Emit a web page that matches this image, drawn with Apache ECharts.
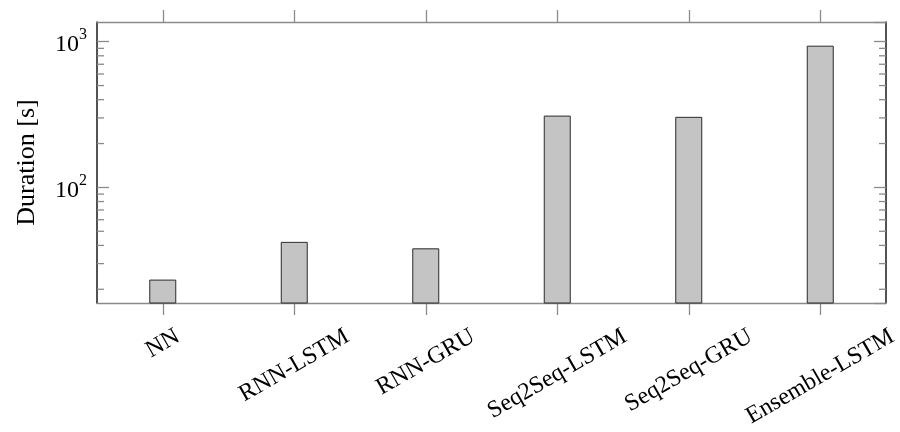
<!DOCTYPE html>
<html>
<head>
<meta charset="utf-8">
<script src="https://cdn.jsdelivr.net/npm/echarts@6/dist/echarts.min.js"></script>
<style>html,body{margin:0;padding:0;background:#fff;}#c{width:900px;height:432px;}</style>
</head>
<body>
<div id="c"></div>
<script>
const categories = ['NN', 'RNN-LSTM', 'RNN-GRU', 'Seq2Seq-LSTM', 'Seq2Seq-GRU', 'Ensemble-LSTM'];
const durations = [23.3, 42.3, 38.2, 311, 305, 939];
const yMin = 16.1;
const yMax = 1365;
const minorTicks = [20, 30, 40, 50, 60, 70, 80, 90, 200, 300, 400, 500, 600, 700, 800, 900];
const yTitle = 'Duration [s]';

const FONT = '"Liberation Serif", "Times New Roman", serif';
const labelSize = 24;
const tickColor = '#8a8a8a';
const frameGray = '#8a8a8a';
const frameDark = '#1a1a1a';

const mctx = document.createElement('canvas').getContext('2d');
mctx.font = labelSize + 'px ' + FONT;
function textW(t) { return mctx.measureText(t).width; }

function powLabel(v) {
  const e = Math.log10(v);
  const r = Math.round(e);
  if (Math.abs(e - r) > 1e-6) return '';
  return '{b|10}{s|' + r + '}';
}

const chart = echarts.init(document.getElementById('c'), null, {renderer: 'canvas'});
const ang = Math.PI / 6;

chart.setOption({
  animation: false,
  backgroundColor: '#fff',
  grid: {left: 97, right: 14, top: 22, bottom: 129, containLabel: false},
  xAxis: [
    {
      type: 'category', data: categories, position: 'bottom',
      axisLine: {show: true, lineStyle: {color: frameGray, width: 1.3}},
      axisTick: {show: true, alignWithLabel: true, inside: false, length: 12, lineStyle: {color: tickColor, width: 1.3}},
      axisLabel: {show: false},
      splitLine: {show: false}
    },
    {
      type: 'category', data: categories, position: 'top',
      axisLine: {show: true, lineStyle: {color: frameGray, width: 1.3}},
      axisTick: {show: true, alignWithLabel: true, inside: false, length: 12, lineStyle: {color: tickColor, width: 1.3}},
      axisLabel: {show: false},
      splitLine: {show: false}
    }
  ],
  yAxis: [
    {
      type: 'log', logBase: 10, min: yMin, max: yMax, position: 'left',
      name: yTitle, nameLocation: 'middle', nameRotate: 90, nameGap: 57,
      nameTextStyle: {fontFamily: FONT, fontSize: 26, color: '#000'},
      axisLine: {show: true, lineStyle: {color: frameDark, width: 1.5}},
      axisTick: {show: true, inside: true, length: 12, lineStyle: {color: tickColor, width: 1.3}},
      axisLabel: {
        show: true, margin: 10, showMinLabel: false, showMaxLabel: false,
        formatter: powLabel,
        rich: {
          b: {fontFamily: FONT, fontSize: 24, color: '#000', lineHeight: 30, verticalAlign: 'bottom'},
          s: {fontFamily: FONT, fontSize: 16, color: '#000', lineHeight: 30, verticalAlign: 'top'}
        }
      },
      splitLine: {show: false}
    },
    {
      type: 'log', logBase: 10, min: yMin, max: yMax, position: 'right',
      axisLine: {show: true, lineStyle: {color: frameDark, width: 1.5}},
      axisTick: {show: true, inside: true, length: 12, lineStyle: {color: tickColor, width: 1.3}},
      axisLabel: {show: false},
      splitLine: {show: false}
    }
  ],
  series: [
    {
      type: 'bar', xAxisIndex: 0, yAxisIndex: 0,
      data: durations, barWidth: 27,
      itemStyle: {color: '#c4c4c4', borderColor: '#2b2b2b', borderWidth: 1}
    },
    {
      type: 'custom', xAxisIndex: 0, yAxisIndex: 0, silent: true, clip: false,
      data: minorTicks.map(v => [0, v]),
      renderItem: function (params, api) {
        const cs = params.coordSys;
        const y = api.coord([0, api.value(1)])[1];
        const st = {stroke: tickColor, lineWidth: 1.3};
        return {type: 'group', children: [
          {type: 'line', shape: {x1: cs.x, y1: y, x2: cs.x + 7, y2: y}, style: st},
          {type: 'line', shape: {x1: cs.x + cs.width - 7, y1: y, x2: cs.x + cs.width, y2: y}, style: st}
        ]};
      }
    },
    {
      type: 'custom', xAxisIndex: 0, yAxisIndex: 0, silent: true, clip: false, z: 10,
      data: categories.map((c, i) => [i, yMin]),
      renderItem: function (params, api) {
        const i = api.value(0);
        const p = api.coord([i, api.value(1)]);
        const t = categories[i];
        const L = textW(t);
        return {
          type: 'text', x: p[0], y: p[1] + 32 + (L / 2) * Math.sin(ang), rotation: ang,
          style: {text: t, font: labelSize + 'px ' + FONT, fill: '#000', align: 'center', verticalAlign: 'middle'}
        };
      }
    }
  ]
});
</script>
</body>
</html>
